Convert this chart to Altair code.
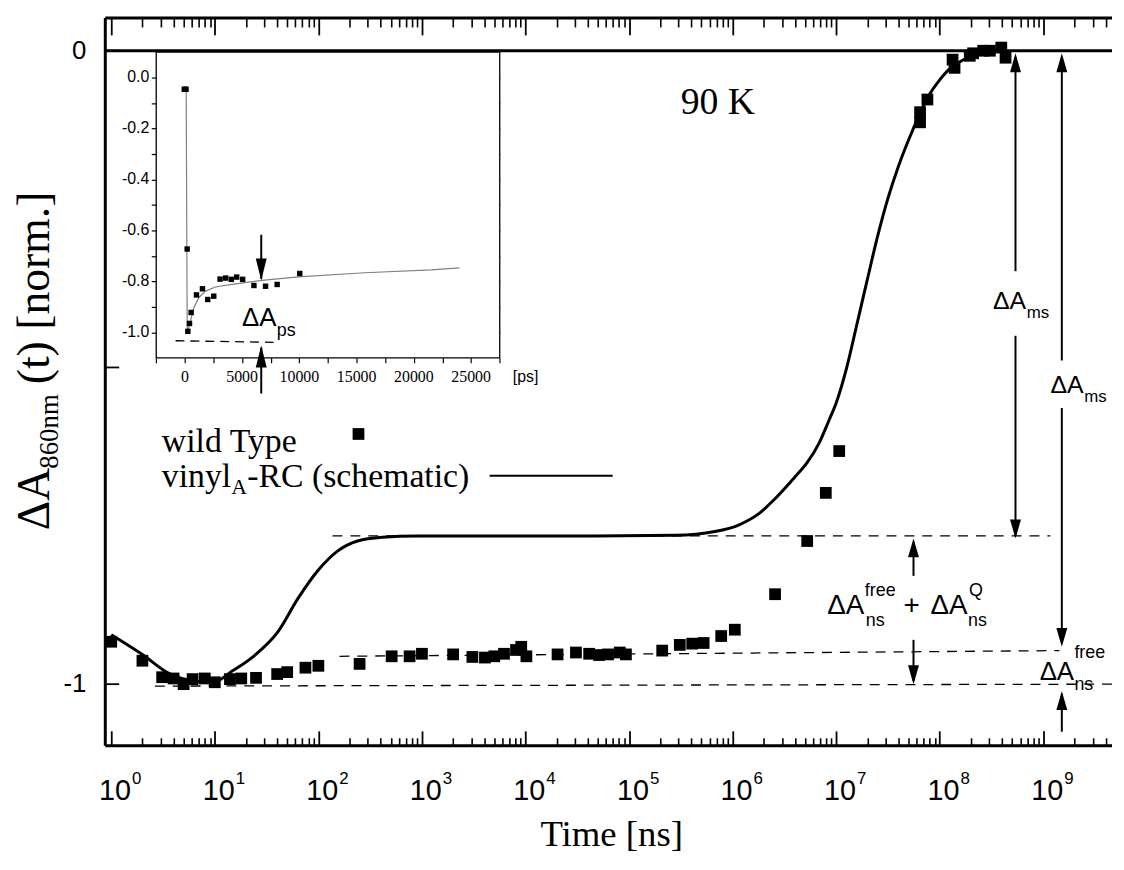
import altair as alt
import pandas as pd

# ---------------- values ----------------
# main panel, wild type (squares): time in ns, normalised dA
wt_time_ns = [1.0, 2.0, 3.1, 4.0, 5.0, 6.1, 8.0, 10, 14, 18, 25, 40, 50, 75, 100, 250, 510, 760,
              1000, 2000, 3070, 4060, 5000, 6200, 8100, 9100, 10200, 20400, 30700, 41200, 51300,
              62700, 81300, 93300, 2.09e5, 3.09e5, 4.07e5, 5.25e5, 7.76e5, 1.05e6, 2.57e6, 5.25e6,
              7.94e6, 1.07e7, 6.46e7, 6.46e7, 7.6e7, 1.33e8, 1.39e8, 1.95e8, 2.1e8, 2.63e8, 3.05e8,
              3.93e8, 4.32e8]
wt_dA = [-0.933, -0.963, -0.989, -0.991, -1.000, -0.992, -0.991, -0.997, -0.992, -0.991, -0.990,
         -0.984, -0.981, -0.974, -0.971, -0.968, -0.956, -0.956, -0.952, -0.953, -0.957, -0.958,
         -0.956, -0.952, -0.946, -0.941, -0.956, -0.953, -0.950, -0.952, -0.954, -0.953, -0.950,
         -0.953, -0.947, -0.938, -0.936, -0.935, -0.924, -0.914, -0.858, -0.774, -0.698, -0.632,
         -0.097, -0.113, -0.077, -0.014, -0.027, -0.008, -0.004, 0.0, 0.0, 0.005, -0.011]

# main panel, vinylA-RC schematic curve
vinyl_time_ns = [1.0, 2.03, 3.6, 6.25, 9.7, 14.5, 24.5, 40.8, 63.4, 98.6, 153, 239, 414, 897, 5250,
                 47800, 2.79e5, 6.75e5, 1.17e6, 1.82e6, 2.54e6, 3.94e6, 5.26e6, 6.86e6, 8.55e6,
                 1.0e7, 1.26e7, 1.58e7, 2.0e7, 2.51e7, 3.16e7, 3.98e7, 5.0e7, 6.3e7, 7.9e7, 1.0e8,
                 1.26e8, 1.58e8, 2.0e8, 2.8e8, 4.0e8]
vinyl_dA = [-0.922, -0.954, -0.983, -0.995, -0.997, -0.980, -0.954, -0.917, -0.865, -0.821, -0.790,
            -0.774, -0.768, -0.766, -0.766, -0.766, -0.765, -0.759, -0.748, -0.730, -0.708, -0.674,
            -0.650, -0.619, -0.583, -0.556, -0.501, -0.433, -0.361, -0.293, -0.233, -0.183, -0.141,
            -0.103, -0.070, -0.046, -0.028, -0.017, -0.009, -0.003, 0.0]

# dashed reference levels (start / end)
level_name = ["plateau", "free+Q", "free"]
level_t_start = [137, 160, 2.64]
level_t_end = [1.17e9, 1.43e9, 4.6e9]
level_v_start = [-0.766, -0.956, -1.003]
level_v_end = [-0.766, -0.947, -1.000]

# vertical arrows (shaft segments) and arrow heads
arrow_t = [5.39e8, 5.39e8, 1.51e9, 1.51e9, 5.58e7, 5.58e7, 1.51e9]
arrow_v_from = [-0.01, -0.450, -0.01, -0.564, -0.829, -0.930, -1.075]
arrow_v_to = [-0.348, -0.765, -0.489, -0.935, -0.775, -0.995, -1.015]
head_up_t = [5.39e8, 1.51e9, 5.58e7, 1.51e9]
head_up_v = [-0.004, -0.004, -0.770, -1.011]
head_down_t = [5.39e8, 1.51e9, 5.58e7]
head_down_v = [-0.770, -0.941, -1.000]

# inset (ps)
inset_wt_ps = [-50, 100, 203, 261, 406, 551, 1015, 1537, 2001, 2523, 3074, 3567, 4060, 4524, 5046,
               6032, 7047, 8062, 10034]
inset_wt_dA = [-0.046, -0.046, -0.673, -0.996, -0.965, -0.922, -0.853, -0.829, -0.871, -0.858,
               -0.791, -0.787, -0.792, -0.783, -0.792, -0.816, -0.819, -0.812, -0.769]
inset_fit_ps = [116, 203, 290, 493, 783, 1218, 1798, 2668, 4118, 6728, 9918, 15718, 21518, 23983]
inset_fit_dA = [-0.045, -0.980, -0.993, -0.955, -0.903, -0.864, -0.838, -0.822, -0.812, -0.796,
                -0.782, -0.766, -0.755, -0.747]
inset_dash_ps = [-812, 7743]
inset_dash_dA = [-1.033, -1.039]
inset_arrow_ps = [6670, 6670]
inset_arrow_from = [-0.617, -1.24]
inset_arrow_to = [-0.790, -1.060]

# tick labels
decades = [10.0 ** k for k in range(10)]
decade_exp = [str(k) for k in range(10)]
y_tick_values = [0.0, -1.0]
y_tick_labels = ["0", "-1"]
inset_x_label_values = [0, 5000, 10000, 15000, 20000, 25000]
inset_y_label_values = [0.0, -0.2, -0.4, -0.6, -0.8, -1.0]
inset_y_labels = ["0.0", "-0.2", "-0.4", "-0.6", "-0.8", "-1.0"]

# ---------------- scales ----------------
W, H = 1014, 733
X_DOM = [0.876, 4.61e9]
Y_DOM = [-1.0972, 0.0517]
xs = alt.Scale(type="log", domain=X_DOM, nice=False)
ys = alt.Scale(domain=Y_DOM, nice=False, zero=False)
IX_DOM = [-2500, 27500]
IY_DOM = [-1.1, 0.1]
IX_RANGE = [51.3, 397.3]
IY_RANGE = [342.3, 34.3]
xi = alt.Scale(domain=IX_DOM, range=IX_RANGE, nice=False, zero=False)
yi = alt.Scale(domain=IY_DOM, range=IY_RANGE, nice=False, zero=False)

# pixel -> axis-unit conversions for label offsets
PX_Y = 1 / 638.0            # main y units per px
DEC_PX = 104.3               # main px per decade
IN_PX_X = 30000 / 346.0      # inset ps per px
IN_PX_Y = 1.2 / 308.0        # inset units per px

SERIF = "Liberation Serif"
SANS = "Liberation Sans"


def XY(sx, sy, xf="t", yf="v"):
    return dict(x=alt.X(f"{xf}:Q", scale=sx, axis=None), y=alt.Y(f"{yf}:Q", scale=sy, axis=None))


def label(t, v, text, sx=xs, sy=ys, **kw):
    df = pd.DataFrame({"t": [t], "v": [v], "label": [text]})
    kw.setdefault("align", "left")
    kw.setdefault("baseline", "alphabetic")
    return alt.Chart(df).mark_text(color="black", **kw).encode(text="label:N", **XY(sx, sy))


def labels(ts, vs, texts, sx, sy, **kw):
    df = pd.DataFrame({"t": ts, "v": vs, "label": texts})
    return alt.Chart(df).mark_text(color="black", **kw).encode(text="label:N", **XY(sx, sy))


def tick_axis(scale, channel, orient, offset, size, values, width=1.8):
    """an axis that only draws ticks; offset moves it inside the frame so ticks point inward"""
    axis = alt.Axis(orient=orient, offset=offset, values=values, tickSize=size, tickWidth=width,
                    tickColor="black", ticks=True, labels=False, domain=False, grid=False, title="")
    d = pd.DataFrame({"t": values})
    enc = {channel: (alt.X if channel == "x" else alt.Y)("t:Q", scale=scale, axis=axis)}
    return alt.Chart(d).mark_point(opacity=0).encode(**enc)


class Segs:
    """collects straight segments (arrow shafts, small marks) for one rule layer"""

    def __init__(self):
        self.rows = []

    def v(self, ts, v0, v1, w):
        for t in ts:
            self.rows.append((t, t, v0, v1, w))

    def h(self, vs, t0, t1, w):
        for v in vs:
            self.rows.append((t0, t1, v, v, w))

    def chart(self, sx, sy):
        df = pd.DataFrame(self.rows, columns=["t", "t2", "v", "v2", "w"])
        return alt.Chart(df).mark_rule(color="black").encode(
            x=alt.X("t:Q", scale=sx, axis=None), x2="t2:Q",
            y=alt.Y("v:Q", scale=sy, axis=None), y2="v2:Q",
            strokeWidth=alt.StrokeWidth("w:Q", scale=None, legend=None))


UP = "M0,0L0.58,2L-0.58,2Z"
DOWN = "M0,0L0.58,-2L-0.58,-2Z"
UP_I = "M0,0L0.5,2L-0.5,2Z"
DOWN_I = "M0,0L0.5,-2L-0.5,-2Z"

# ---------------- main panel ----------------
df_wt = pd.DataFrame({"t": wt_time_ns, "v": wt_dA})
df_fit = pd.DataFrame({"t": vinyl_time_ns, "v": vinyl_dA})
df_lev = pd.DataFrame({
    "name": level_name * 2,
    "t": level_t_start + level_t_end,
    "v": level_v_start + level_v_end,
})
df_hu = pd.DataFrame({"t": head_up_t, "v": head_up_v})
df_hd = pd.DataFrame({"t": head_down_t, "v": head_down_v})

x_major = [10.0 ** k for k in range(10)]
x_minor = [m * 10.0 ** k for k in range(10) for m in range(2, 10) if m * 10.0 ** k <= X_DOM[1]]

# frame
hframe = alt.Chart(pd.DataFrame({"v": [Y_DOM[0], Y_DOM[1], 0.0]})).mark_rule(
    color="black", strokeWidth=3).encode(y=alt.Y("v:Q", scale=ys, axis=None))
vframe = alt.Chart(pd.DataFrame({"t": [X_DOM[0]]})).mark_rule(
    color="black", strokeWidth=3).encode(x=alt.X("t:Q", scale=xs, axis=None))

levels = alt.Chart(df_lev).mark_line(color="black", strokeWidth=1.3, strokeDash=[10, 8]).encode(
    detail="name:N", **XY(xs, ys))
fit = alt.Chart(df_fit).mark_line(color="black", strokeWidth=3, interpolate="monotone").encode(**XY(xs, ys))
wt = alt.Chart(df_wt).mark_square(size=140, color="black", opacity=1).encode(**XY(xs, ys))

segs = Segs()
for t, a, b in zip(arrow_t, arrow_v_from, arrow_v_to):
    segs.v([t], a, b, 2)
segs.h([0.0, -0.5, -1.0], X_DOM[0], X_DOM[0] * 10 ** (14 / DEC_PX), 1.8)  # inward y ticks
segs.h([-0.671], 4500, 6.95e4, 2)  # legend line sample
main_segs = segs.chart(xs, ys)

heads_up = alt.Chart(df_hu).mark_point(shape=UP, size=361, filled=True, color="black", opacity=1,
                                       strokeWidth=0).encode(**XY(xs, ys))
heads_dn = alt.Chart(df_hd).mark_point(shape=DOWN, size=361, filled=True, color="black", opacity=1,
                                       strokeWidth=0).encode(**XY(xs, ys))

# tick labels: 10^n along x, 0 / -1 along y
df_dec = pd.DataFrame({"t": decades, "v": [-1.1834] * 10, "base": ["10"] * 10, "exp": decade_exp})
xlab_base = alt.Chart(df_dec).mark_text(align="right", baseline="alphabetic", dx=20, font=SANS,
                                        fontSize=29, color="black").encode(text="base:N", **XY(xs, ys))
xlab_exp = alt.Chart(df_dec).mark_text(align="left", baseline="alphabetic", dx=21, dy=-16, font=SANS,
                                       fontSize=17, color="black").encode(text="exp:N", **XY(xs, ys))
YL_T = X_DOM[0] * 10 ** (-19 / DEC_PX)
ylab = labels([YL_T] * 2, y_tick_values, y_tick_labels, xs, ys, align="right", baseline="middle",
              font=SANS, fontSize=26)
xtitle = label(6.8e4, -1.2555, "Time [ns]", align="center", font=SERIF, fontSize=37)

# y axis title (rotated, composed of parts)
TT, TV = 0.249, -0.757
ytitle = [
    label(TT, TV, "ΔA", angle=270, font=SERIF, fontSize=46),
    label(TT, TV, "860nm", angle=270, font=SERIF, fontSize=27, dx=62, dy=9),
    label(TT, TV, "(t) [norm.]", angle=270, font=SERIF, fontSize=46, dx=147),
]

# annotations
annot = [
    label(7.2e5, -0.1003, "90 K", align="center", font=SERIF, fontSize=38),
    label(3.08, -0.633, "wild Type", font=SERIF, fontSize=34),
    label(3.08, -0.688, "vinyl", font=SERIF, fontSize=34),
    label(3.08, -0.688, "A", font=SERIF, fontSize=22, dx=70, dy=8),
    label(3.08, -0.688, "-RC (schematic)", font=SERIF, fontSize=34, dx=86),
    # dA_ms (1)
    label(3.27e8, -0.4075, "ΔA", font=SANS, fontSize=25),
    label(3.27e8, -0.4075, "ms", font=SANS, fontSize=17, dx=34, dy=9),
    # dA_ms (2)
    label(1.175e9, -0.541, "ΔA", font=SANS, fontSize=25),
    label(1.175e9, -0.541, "ms", font=SANS, fontSize=17, dx=34, dy=9),
    # dA_ns^free + dA_ns^Q
    label(8.18e6, -0.889, "ΔA", font=SANS, fontSize=28),
    label(8.18e6, -0.889, "free", font=SANS, fontSize=18, dx=38, dy=-18),
    label(8.18e6, -0.889, "ns", font=SANS, fontSize=18, dx=39, dy=12),
    label(8.18e6, -0.889, "+", font=SANS, fontSize=28, dx=77),
    label(8.18e6, -0.889, "ΔA", font=SANS, fontSize=28, dx=104),
    label(8.18e6, -0.889, "Q", font=SANS, fontSize=18, dx=143, dy=-18),
    label(8.18e6, -0.889, "ns", font=SANS, fontSize=18, dx=142, dy=12),
    # dA_ns^free (right)
    label(9.22e8, -0.9937, "ΔA", font=SANS, fontSize=26),
    label(9.22e8, -0.9937, "free", font=SANS, fontSize=18, dx=35, dy=-22),
    label(9.22e8, -0.9937, "ns", font=SANS, fontSize=18, dx=35, dy=10),
]

leg_marker = alt.Chart(pd.DataFrame({"t": [244], "v": [-0.605]})).mark_square(
    size=140, color="black", opacity=1).encode(**XY(xs, ys))

main = alt.layer(hframe, vframe, levels, fit, wt, main_segs, heads_up, heads_dn,
                 xlab_base, xlab_exp, ylab, xtitle, *ytitle, *annot, leg_marker)

# ---------------- inset ----------------
df_iwt = pd.DataFrame({"t": inset_wt_ps, "v": inset_wt_dA})
df_ifit = pd.DataFrame({"t": inset_fit_ps, "v": inset_fit_dA})
df_idash = pd.DataFrame({"t": inset_dash_ps, "v": inset_dash_dA})

ix_ticks = list(range(-2500, 27501, 2500))
iy_ticks = [round(-1.1 + 0.1 * i, 1) for i in range(13)]

frame = alt.Chart(pd.DataFrame({"t": [IX_DOM[0]], "t2": [IX_DOM[1]], "v": [IY_DOM[0]], "v2": [IY_DOM[1]]})).mark_rect(
    fill="white", stroke="black", strokeWidth=1.3).encode(
    x=alt.X("t:Q", scale=xi, axis=None), x2="t2:Q", y=alt.Y("v:Q", scale=yi, axis=None), y2="v2:Q")

ifit = alt.Chart(df_ifit).mark_line(color="#808080", strokeWidth=1.2).encode(**XY(xi, yi))
iwt = alt.Chart(df_iwt).mark_square(size=30, color="black", opacity=1).encode(**XY(xi, yi))
idash = alt.Chart(df_idash).mark_line(color="black", strokeWidth=1.3, strokeDash=[9, 6]).encode(**XY(xi, yi))

isegs = Segs()
for t, a, b in zip(inset_arrow_ps, inset_arrow_from, inset_arrow_to):
    isegs.v([t], a, b, 2)
inset_segs = isegs.chart(xi, yi)

ihd = alt.Chart(pd.DataFrame({"t": [6670], "v": [-0.796]})).mark_point(
    shape=DOWN_I, size=484, filled=True, color="black", opacity=1, strokeWidth=0).encode(**XY(xi, yi))
ihu = alt.Chart(pd.DataFrame({"t": [6670], "v": [-1.052]})).mark_point(
    shape=UP_I, size=484, filled=True, color="black", opacity=1, strokeWidth=0).encode(**XY(xi, yi))

ixlab = labels(inset_x_label_values, [IY_DOM[0] - 24 * IN_PX_Y] * 6, [str(v) for v in inset_x_label_values],
               xi, yi, align="center", baseline="alphabetic", font=SERIF, fontSize=16)
iylab = labels([IX_DOM[0] - 7 * IN_PX_X] * 6, inset_y_label_values, inset_y_labels, xi, yi,
               align="right", baseline="middle", font=SANS, fontSize=16)

itext = [
    label(4986, -0.974, "ΔA", sx=xi, sy=yi, font=SANS, fontSize=26),
    label(4986, -0.974, "ps", sx=xi, sy=yi, font=SANS, fontSize=18, dx=35, dy=10),
    label(28633, IY_DOM[0] - 24 * IN_PX_Y, "[ps]", sx=xi, sy=yi, font=SANS, fontSize=16),
]

inset = alt.layer(frame, ifit, iwt, idash, inset_segs, ihd, ihu, ixlab, iylab, *itext)

# ---------------- tick-only axes (inward ticks on the frames) ----------------
tick_axes = [
    tick_axis(xs, "x", "bottom", -15, 15, x_major, 1.8),
    tick_axis(xs, "x", "bottom", -8, 8, x_minor, 1.6),
    tick_axis(xs, "x", "top", -17, 17, x_major, 1.8),
    tick_axis(xs, "x", "top", -9, 9, x_minor, 1.6),
    # inset: bottom/left outward, top/right inward
    tick_axis(xi, "x", "bottom", IY_RANGE[0] - H, 5, ix_ticks, 1.2),
    tick_axis(xi, "x", "top", -(IY_RANGE[1] + 5), 5, ix_ticks[1:-1], 1.2),
    tick_axis(yi, "y", "left", -IX_RANGE[0], 5, iy_ticks[1:-1], 1.2),
    tick_axis(yi, "y", "right", (IX_RANGE[1] - 5) - W, 5, iy_ticks[1:-1], 1.2),
]

chart = alt.layer(main, inset, *tick_axes).resolve_scale(x="independent", y="independent").properties(
    width=W, height=H,
    padding={"left": 98, "top": 7, "right": 4, "bottom": 110},
    autosize=alt.AutoSizeParams(type="none"),
    background="white",
).configure_view(stroke=None)

chart.save("out.html", embed_options={"renderer": "svg", "actions": False})
